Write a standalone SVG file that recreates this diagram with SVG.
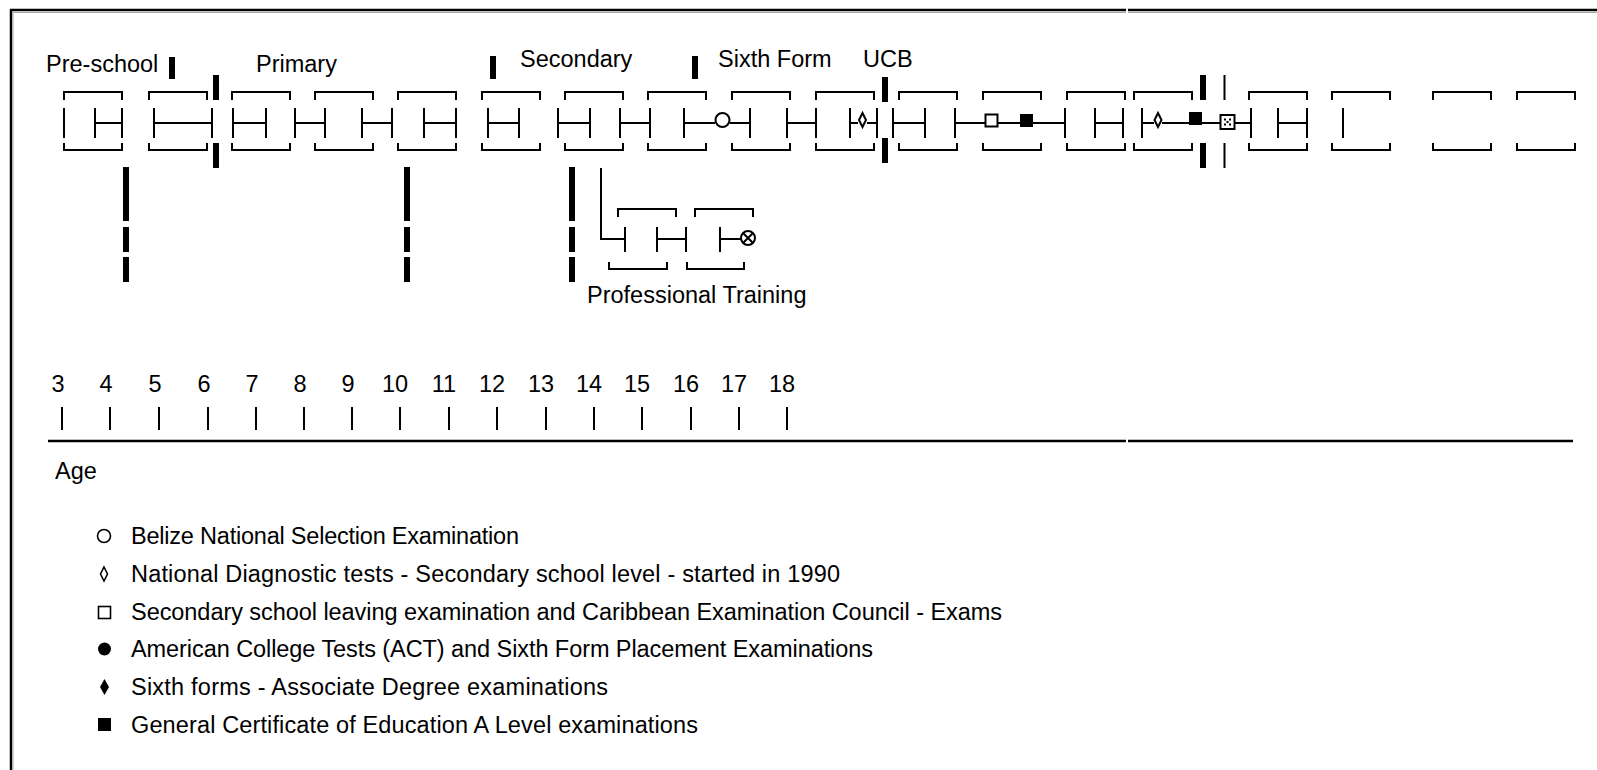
<svg xmlns="http://www.w3.org/2000/svg" xmlns:xlink="http://www.w3.org/1999/xlink" width="1597" height="770" viewBox="0 0 1597 770">
<style>
.ln{stroke:#000;stroke-width:2;fill:none}
.bx{stroke:#000;stroke-width:2;fill:none}
.bar{fill:#000}
.sym{stroke:#000;stroke-width:2;fill:#fff}
.fill{fill:#000;stroke:none}
text{font-family:"Liberation Sans",Arial,sans-serif;font-size:23.5px;fill:#000}
</style>
<defs>
<path id="box" d="M0,8 V0 H58 V8 M0,51 V58 H58 V51" class="bx"/>
</defs>
<rect width="1597" height="770" fill="#fff"/>
<g id="frame">
<path d="M11,770 V10 H1126 M1128,10 H1597" stroke="#000" stroke-width="2.5" fill="none"/>
<path d="M13,770 V12.5 H1126 M1128,12.5 H1597" stroke="#aaa" stroke-width="1" fill="none"/>
</g>
<g id="labels">
<text x="46" y="72">Pre-school</text>
<text x="256" y="72">Primary</text>
<text x="520" y="67">Secondary</text>
<text x="718" y="67">Sixth Form</text>
<text x="863" y="67">UCB</text>
<text x="587" y="303">Professional Training</text>
</g>
<g id="node-box1"><use href="#box" x="64" y="92"/><path class="ln" d="M64,108 V138 M95,108 V138 M95,123 H122 M122,108 V138"/></g>
<g id="node-box2"><use href="#box" x="149" y="92"/><path class="ln" d="M154,108 V138 M154,123 H212 M212,108 V138"/></g>
<g id="node-box3"><use href="#box" x="232" y="92"/><path class="ln" d="M233,108 V138 M233,123 H266 M266,108 V138"/></g>
<g id="node-box4"><use href="#box" x="315" y="92"/><path class="ln" d="M295,108 V138 M295,123 H325 M325,108 V138 M362,108 V138 M362,123 H392 M392,108 V138"/></g>
<g id="node-box5"><use href="#box" x="398" y="92"/><path class="ln" d="M424,108 V138 M424,123 H456 M456,108 V138"/></g>
<g id="node-box6"><use href="#box" x="482" y="92"/><path class="ln" d="M488,108 V138 M488,123 H519 M519,108 V138"/></g>
<g id="node-box7"><use href="#box" x="565" y="92"/><path class="ln" d="M558,108 V138 M558,123 H590 M590,108 V138 M620,108 V138 M620,123 H650 M650,108 V138"/></g>
<g id="node-box8"><use href="#box" x="648" y="92"/><path class="ln" d="M684,108 V138 M684,123 H715 M730,123 H750 M750,108 V138"/><circle class="sym" cx="722.5" cy="120" r="7"/></g>
<g id="node-box9"><use href="#box" x="732" y="92"/><path class="ln" d="M787,108 V138 M787,123 H816 M816,108 V138"/></g>
<g id="node-box10"><use href="#box" x="816" y="92"/><path class="ln" d="M850,108 V138 M850,123 H858 M867,123 H877 M877,108 V138"/><path class="sym" d="M862.5,113 L866,120 L862.5,127 L859,120 Z"/></g>
<g id="node-box11"><use href="#box" x="899" y="92"/><path class="ln" d="M893,108 V138 M893,123 H925 M925,108 V138 M955,108 V138 M955,123 H985"/></g>
<g id="node-box12"><use href="#box" x="983" y="92"/><path class="ln" d="M998,123 H1020 M1032,123 H1065 M1065,108 V138"/><rect class="sym" x="985.5" y="114.5" width="12" height="12"/><rect class="fill" x="1020" y="114" width="13" height="13"/></g>
<g id="node-box13"><use href="#box" x="1067" y="92"/><path class="ln" d="M1095,108 V138 M1095,123 H1123 M1123,108 V138"/></g>
<g id="node-box14"><use href="#box" x="1134" y="92"/><path class="ln" d="M1142,108 V138 M1142,123 H1154 M1162,123 H1189 M1202,123 H1220 M1235,123 H1251"/><path class="sym" d="M1158,113 L1161.5,120 L1158,127 L1154.5,120 Z"/><rect class="fill" x="1189" y="112" width="13" height="13"/><rect class="sym" x="1220.5" y="115" width="14" height="14"/><path class="fill" d="M1224,118.5h2v2h-2z M1229,118.5h2v2h-2z M1226.5,121h2v2h-2z M1224,123.5h2v2h-2z M1229,123.5h2v2h-2z"/></g>
<g id="node-box15"><use href="#box" x="1249" y="92"/><path class="ln" d="M1251,108 V138 M1278,108 V138 M1278,123 H1307 M1307,108 V138"/></g>
<g id="node-box16"><use href="#box" x="1332" y="92"/><path class="ln" d="M1343,108 V138"/></g>
<g id="node-box17"><use href="#box" x="1433" y="92"/></g>
<g id="node-box18"><use href="#box" x="1517" y="92"/></g>
<g id="node-prof1"><path class="bx" d="M618,217 V209 H676 V217 M609,262 V269 H667 V262"/><path class="ln" d="M625,227 V252 M657,227 V252 M657,239 H686 M686,227 V252"/></g>
<g id="node-prof2"><path class="bx" d="M695,217 V209 H753 V217 M687,262 V269 H744 V262"/><path class="ln" d="M720,227 V252 M720,239 H741"/><circle class="sym" cx="748" cy="238" r="7"/><path class="ln" stroke-width="1.5" d="M743.5,233.5 L752.5,242.5 M752.5,233.5 L743.5,242.5"/></g>
<g id="connectors">
<rect class="bar" x="169" y="57" width="6" height="22"/>
<rect class="bar" x="213" y="75" width="6" height="25"/>
<rect class="bar" x="213" y="143" width="6" height="25"/>
<rect class="bar" x="490" y="56" width="6" height="23"/>
<rect class="bar" x="692" y="56" width="6" height="23"/>
<rect class="bar" x="882" y="77" width="6" height="25"/>
<rect class="bar" x="882" y="138" width="6" height="25"/>
<rect class="bar" x="1200" y="75" width="6" height="25"/>
<rect class="bar" x="1200" y="143" width="6" height="25"/>
<path class="ln" d="M1224.5,75 V100 M1224.5,143 V168"/>
<rect class="bar" x="123" y="167" width="6" height="54"/>
<rect class="bar" x="123" y="227" width="6" height="25"/>
<rect class="bar" x="123" y="257" width="6" height="25"/>
<rect class="bar" x="404" y="167" width="6" height="54"/>
<rect class="bar" x="404" y="227" width="6" height="25"/>
<rect class="bar" x="404" y="257" width="6" height="25"/>
<rect class="bar" x="569" y="167" width="6" height="54"/>
<rect class="bar" x="569" y="227" width="6" height="25"/>
<rect class="bar" x="569" y="257" width="6" height="25"/>
<path class="ln" d="M601,168 V239 H625"/>
</g>
<g id="axis">
<path d="M48,441 H1126 M1128,441 H1573" stroke="#000" stroke-width="2.5" fill="none"/>
<path class="ln" d="M62,407 V430 M110,407 V430 M159,407 V430 M208,407 V430 M256,407 V430 M304,407 V430 M352,407 V430 M400,407 V430 M449,407 V430 M497,407 V430 M546,407 V430 M594,407 V430 M642,407 V430 M691,407 V430 M739,407 V430 M787,407 V430"/>
<g text-anchor="middle">
<text x="58" y="392">3</text>
<text x="106" y="392">4</text>
<text x="155" y="392">5</text>
<text x="204" y="392">6</text>
<text x="252" y="392">7</text>
<text x="300" y="392">8</text>
<text x="348" y="392">9</text>
<text x="395" y="392">10</text>
<text x="444" y="392">11</text>
<text x="492" y="392">12</text>
<text x="541" y="392">13</text>
<text x="589" y="392">14</text>
<text x="637" y="392">15</text>
<text x="686" y="392">16</text>
<text x="734" y="392">17</text>
<text x="782" y="392">18</text>
</g>
<text x="55" y="479">Age</text>
</g>
<g id="legend">
<circle cx="104" cy="536" r="6.5" stroke="#000" stroke-width="1.6" fill="#fff"/>
<path d="M104,567 L107.5,574 L104,581 L100.5,574 Z" stroke="#000" stroke-width="1.6" fill="#fff"/>
<rect x="98.5" y="606.5" width="12" height="12" stroke="#000" stroke-width="1.6" fill="#fff"/>
<circle cx="104.5" cy="649" r="6.5" fill="#000"/>
<path d="M104.5,679 L109,687 L104.5,695 L100,687 Z" fill="#000"/>
<rect x="98" y="718" width="13" height="13" fill="#000"/>
<text x="131" y="544" textLength="388" lengthAdjust="spacing">Belize National Selection Examination</text>
<text x="131" y="582" textLength="709" lengthAdjust="spacing">National Diagnostic tests - Secondary school level - started in 1990</text>
<text x="131" y="620" textLength="871" lengthAdjust="spacing">Secondary school leaving examination and Caribbean Examination Council - Exams</text>
<text x="131" y="657" textLength="742" lengthAdjust="spacing">American College Tests (ACT) and Sixth Form Placement Examinations</text>
<text x="131" y="695" textLength="477" lengthAdjust="spacing">Sixth forms - Associate Degree examinations</text>
<text x="131" y="733" textLength="567" lengthAdjust="spacing">General Certificate of Education A Level examinations</text>
</g>
</svg>
